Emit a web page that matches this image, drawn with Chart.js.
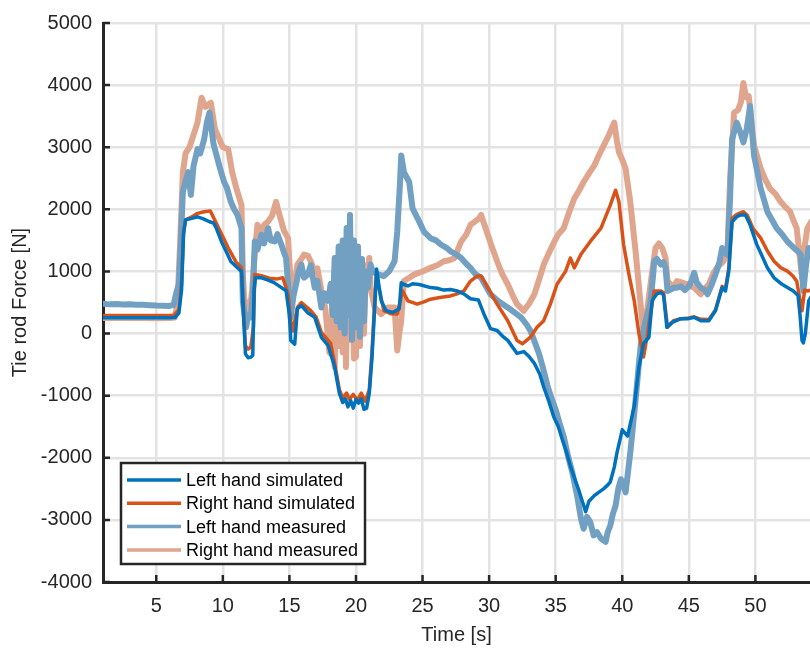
<!DOCTYPE html>
<html>
<head>
<meta charset="utf-8">
<script src="https://cdn.jsdelivr.net/npm/chart.js@4.4.1/dist/chart.umd.min.js"></script>
<style>
  html, body { margin: 0; padding: 0; background: #fff; }
  #wrap { width: 810px; height: 653px; }
</style>
</head>
<body>
<div id="wrap"><canvas id="lineChart" width="810" height="653"></canvas></div>
<script>
// tick labels
var xTicks = [5, 10, 15, 20, 25, 30, 35, 40, 45, 50];
var yTicks = [-4000, -3000, -2000, -1000, 0, 1000, 2000, 3000, 4000, 5000];

// Left hand simulated
var lhSimTime = [1.0, 2, 3, 4, 5, 6, 6.4, 6.7, 6.9, 7.05, 7.2, 7.6, 8.1, 8.5, 9.0, 9.3, 9.5, 9.9, 10.3, 10.6, 11.0, 11.4, 11.55, 11.7, 11.9, 12.1, 12.25, 12.35, 12.45, 12.85, 13.4, 13.85, 14.4, 14.75, 15.0, 15.1, 15.4, 15.6, 15.9, 16.4, 16.9, 17.4, 17.9, 18.4, 18.75, 19.0, 19.2, 19.4, 19.6, 19.8, 20.0, 20.2, 20.4, 20.6, 20.8, 21.0, 21.2, 21.4, 21.55, 21.7, 21.9, 22.25, 22.75, 23.25, 23.4, 23.6, 23.9, 24.25, 24.75, 25.6, 26.1, 26.6, 27.1, 27.6, 28.1, 28.6, 29.2, 29.6, 30.1, 30.6, 31.0, 31.4, 32.1, 32.6, 33.0, 33.4, 33.8, 34.1, 34.5, 34.85, 35.2, 35.5, 35.8, 36.1, 36.4, 36.7, 37.0, 37.25, 37.5, 37.9, 38.2, 38.6, 38.9, 39.1, 39.4, 39.6, 40.0, 40.4, 40.9, 41.25, 41.6, 42.0, 42.25, 42.6, 42.9, 43.1, 43.35, 43.75, 44.4, 44.9, 45.4, 45.9, 46.5, 47.0, 47.5, 47.75, 48.0, 48.25, 48.6, 48.9, 49.25, 49.6, 50.1, 50.5, 50.9, 51.4, 52.0, 52.5, 52.85, 53.2, 53.35, 53.5, 53.6, 53.75, 54.0, 54.2];
var lhSim = [255, 255, 255, 255, 255, 255, 258, 330, 700, 1600, 1830, 1850, 1880, 1850, 1800, 1780, 1700, 1480, 1300, 1160, 1080, 1000, 300, -330, -390, -380, -350, 700, 900, 900, 860, 820, 740, 690, 300, -110, -170, 400, 450, 330, 260, -60, -190, -540, -960, -1110, -1050, -1180, -1080, -1200, -1060, -1120, -1050, -1220, -1200, -960, -400, 400, 1040, 800, 530, 370, 340, 400, 818, 790, 766, 800, 790, 740, 730, 700, 710, 686, 640, 560, 540, 320, 80, 50, -40, -110, -320, -290, -370, -480, -650, -860, -1100, -1340, -1500, -1710, -1900, -2130, -2320, -2500, -2700, -2870, -2700, -2610, -2560, -2500, -2440, -2390, -2150, -1920, -1550, -1650, -1170, -540, -160, -60, 530, 640, 660, 620, 100, 180, 240, 237, 260, 207, 207, 367, 738, 686, 1005, 1800, 1880, 1910, 1910, 1750, 1436, 1250, 1058, 898, 793, 730, 686, 611, 300, -112, -150, 0, 527, 600];

// Right hand simulated
var rhSimTime = [1.0, 6.3, 6.7, 6.9, 7.05, 7.2, 7.6, 8.1, 8.6, 9.05, 9.3, 9.5, 10.0, 10.4, 11.0, 11.4, 11.55, 11.7, 11.9, 12.1, 12.3, 12.4, 12.9, 13.5, 14.1, 14.5, 14.9, 15.1, 15.25, 15.6, 15.9, 16.6, 17.0, 17.4, 18.1, 18.4, 18.75, 19.0, 19.3, 19.5, 19.8, 20.1, 20.4, 20.7, 21.0, 21.2, 21.4, 21.55, 21.7, 22.1, 22.6, 23.1, 23.5, 23.9, 24.6, 25.1, 25.6, 26.3, 27.1, 27.6, 28.1, 28.6, 29.1, 29.4, 29.9, 30.6, 31.4, 32.1, 32.5, 33.1, 33.6, 34.1, 34.6, 35.1, 35.75, 36.1, 36.4, 36.9, 37.6, 38.4, 39.1, 39.5, 39.75, 40.1, 40.5, 40.9, 41.25, 41.6, 41.9, 42.1, 42.4, 42.9, 43.1, 43.4, 43.85, 44.4, 45.0, 45.4, 45.9, 46.5, 47.0, 47.5, 47.75, 48.0, 48.25, 48.6, 49.1, 49.4, 49.8, 50.4, 50.9, 51.4, 51.9, 52.4, 52.8, 53.1, 53.3, 53.5, 53.7, 53.9, 54.2];
var rhSim = [290, 295, 380, 800, 1650, 1830, 1870, 1935, 1960, 1975, 1870, 1780, 1560, 1380, 1150, 1060, 400, -200, -250, -220, 100, 950, 930, 890, 880, 900, 640, 200, 40, 420, 500, 370, 270, 20, -160, -480, -900, -1040, -960, -1060, -980, -1070, -960, -1090, -900, -300, 500, 980, 760, 367, 320, 314, 686, 527, 474, 510, 553, 580, 606, 640, 686, 845, 925, 925, 738, 474, 207, -112, -165, -58, 101, 207, 474, 793, 1005, 1217, 1058, 1276, 1483, 1696, 2069, 2308, 2121, 1430, 952, 527, 0, -378, 0, 300, 686, 686, 659, 101, 207, 240, 250, 270, 230, 225, 380, 760, 720, 1050, 1850, 1920, 1962, 1900, 1700, 1536, 1330, 1164, 1060, 1005, 930, 845, 600, 367, 700, 686, 700];

// Left hand measured
var lhMeasTime = [1.0, 1.5, 2, 2.5, 3, 3.5, 4, 4.5, 5, 5.5, 6.0, 6.3, 6.5, 6.7, 6.85, 7.0, 7.2, 7.4, 7.6, 7.8, 8.1, 8.3, 8.6, 8.8, 9.0, 9.15, 9.3, 9.6, 9.8, 10.1, 10.3, 10.6, 10.85, 11.1, 11.4, 11.5, 11.75, 11.9, 12.1, 12.25, 12.4, 12.6, 12.9, 13.1, 13.4, 13.6, 13.9, 14.1, 14.4, 14.6, 14.75, 14.9, 15.1, 15.3, 15.5, 15.7, 15.9, 16.1, 16.4, 16.6, 16.9, 17.1, 17.4, 17.6, 17.9, 18.1, 18.25, 18.4, 18.55, 18.7, 18.85, 19.0, 19.15, 19.3, 19.45, 19.55, 19.7, 19.85, 20.0, 20.15, 20.3, 20.45, 20.6, 20.75, 20.9, 21.1, 21.25, 21.6, 22.1, 22.5, 22.9, 23.1, 23.3, 23.4, 23.6, 24.0, 24.25, 24.75, 25.1, 25.6, 26.0, 26.4, 26.8, 27.1, 27.5, 27.9, 28.3, 28.6, 29.0, 29.4, 30.1, 30.7, 31.4, 31.9, 32.4, 32.8, 33.1, 33.45, 33.75, 34.1, 34.4, 34.7, 35.0, 35.3, 35.6, 35.9, 36.25, 36.6, 36.9, 37.1, 37.35, 37.6, 37.85, 38.1, 38.4, 38.75, 38.9, 39.1, 39.3, 39.5, 39.7, 39.9, 40.25, 40.6, 40.8, 41.0, 41.2, 41.4, 41.75, 42.1, 42.3, 42.4, 42.6, 42.9, 43.1, 43.25, 43.4, 43.9, 44.1, 44.4, 44.7, 45.0, 45.2, 45.4, 45.6, 45.9, 46.2, 46.4, 46.7, 47.0, 47.3, 47.5, 47.7, 47.9, 48.1, 48.25, 48.6, 48.85, 49.1, 49.35, 49.6, 49.75, 49.9, 50.1, 50.4, 50.65, 50.9, 51.2, 51.6, 52.0, 52.4, 52.9, 53.2, 53.4, 53.6, 53.8, 54.0, 54.2];
var lhMeas = [480, 470, 475, 468, 470, 465, 462, 455, 450, 448, 445, 460, 650, 800, 1500, 2280, 2450, 2600, 2233, 2700, 2970, 2900, 3130, 3400, 3557, 3300, 3050, 2812, 2650, 2440, 2350, 2121, 2000, 1910, 1696, 527, 101, 300, 260, 600, 1483, 1350, 1590, 1450, 1696, 1500, 1483, 1600, 1430, 1300, 1217, 800, 260, 600, 793, 1000, 1111, 900, 952, 1100, 738, 850, 420, 650, 527, 800, 300, 1217, 200, 1400, 100, 1500, 0, 1700, 300, 1910, -100, 1500, 100, 1400, -50, 1200, 200, 1000, 738, 1111, 1000, 957, 925, 1005, 1164, 1643, 2400, 2866, 2600, 2440, 2015, 1802, 1643, 1536, 1500, 1430, 1380, 1324, 1280, 1217, 1120, 1058, 950, 900, 633, 520, 420, 340, 260, 150, 48, -150, -324, -600, -856, -1050, -1228, -1450, -1654, -1950, -2238, -2600, -2983, -3143, -2950, -3036, -3250, -3196, -3300, -3355, -3200, -3090, -2900, -2770, -2500, -2345, -2557, -1920, -1500, -1069, -600, -165, 207, 474, 900, 1164, 1200, 1111, 1150, 1058, 686, 738, 738, 760, 700, 760, 850, 978, 820, 738, 700, 633, 780, 952, 1150, 1377, 1300, 1270, 2200, 3130, 3397, 3250, 3078, 3300, 3663, 3250, 2866, 2650, 2333, 2150, 1962, 1850, 1696, 1600, 1483, 1377, 1320, 1271, 686, 1100, 1377, 1350];

// Right hand measured
var rhMeasTime = [1.0, 2, 3, 4, 5, 6, 6.4, 6.6, 6.8, 7.0, 7.2, 7.5, 7.8, 8.1, 8.4, 8.7, 9.1, 9.4, 9.7, 10.0, 10.4, 10.7, 11.0, 11.4, 11.5, 11.6, 11.8, 12.0, 12.2, 12.4, 12.6, 12.9, 13.1, 13.4, 13.7, 14.0, 14.2, 14.4, 14.6, 14.9, 15.1, 15.25, 15.6, 15.9, 16.1, 16.4, 16.6, 16.9, 17.1, 17.4, 17.7, 18.0, 18.1, 18.25, 18.4, 18.55, 18.7, 18.85, 19.0, 19.15, 19.25, 19.4, 19.55, 19.7, 19.85, 20.0, 20.15, 20.3, 20.45, 20.6, 20.75, 20.9, 21.0, 21.1, 21.4, 21.9, 22.4, 22.9, 23.1, 23.25, 23.4, 23.6, 24.0, 24.4, 25.0, 25.6, 26.1, 26.6, 27.0, 27.4, 27.9, 28.3, 28.6, 29.25, 29.4, 29.9, 30.2, 30.6, 31.0, 31.4, 31.8, 32.1, 32.6, 33.0, 33.4, 33.8, 34.1, 34.5, 34.9, 35.2, 35.6, 36.0, 36.4, 36.75, 37.1, 37.5, 37.9, 38.2, 38.6, 39.0, 39.4, 39.6, 39.75, 40.0, 40.25, 40.6, 41.0, 41.4, 41.6, 41.9, 42.25, 42.5, 42.75, 43.0, 43.25, 43.4, 43.85, 44.1, 44.5, 44.9, 45.4, 45.9, 46.2, 46.5, 46.8, 47.1, 47.6, 47.9, 48.1, 48.4, 48.7, 48.9, 49.1, 49.3, 49.5, 49.7, 49.9, 50.4, 50.7, 51.1, 51.5, 51.9, 52.2, 52.6, 52.9, 53.1, 53.3, 53.5, 53.7, 53.9, 54.2];
var rhMeas = [250, 255, 250, 252, 248, 250, 260, 500, 1500, 2600, 2900, 3000, 3200, 3400, 3796, 3650, 3716, 3300, 3150, 3000, 2970, 2600, 2350, 2069, 1000, 579, 400, 319, 700, 1300, 1750, 1650, 1750, 1802, 1900, 2121, 1950, 1802, 1650, 1536, 800, 579, 1111, 1200, 1271, 1250, 1164, 1000, 1050, 700, 400, -300, -324, 500, -537, 900, -200, 1200, -300, 1000, -537, 1300, -100, 1200, -400, -378, 900, -200, 1100, 0, 1100, 800, 1217, 738, 420, 314, 420, 420, -271, 0, 207, 845, 900, 952, 1000, 1058, 1100, 1164, 1180, 1217, 1483, 1600, 1750, 1855, 1910, 1590, 1400, 1164, 950, 793, 600, 474, 367, 480, 633, 900, 1111, 1300, 1483, 1600, 1696, 1950, 2174, 2300, 2440, 2580, 2707, 2850, 3026, 3200, 3397, 3100, 2919, 2800, 2653, 2121, 1324, 420, 0, 420, 1005, 1377, 1450, 1377, 1217, 845, 738, 845, 820, 793, 738, 633, 720, 793, 950, 1058, 1164, 1300, 2500, 3557, 3600, 3716, 4035, 3800, 3823, 3400, 3026, 2653, 2500, 2333, 2250, 2121, 2050, 1962, 1800, 1696, 1300, 898, 1400, 1696, 1802];

var textColor = '#262626';
var fontFamily = '"Liberation Sans", Arial, sans-serif';

function toPoints(t, v) {
  var pts = [];
  for (var i = 0; i < t.length; i++) {
    pts.push({x: t[i], y: v[i]});
  }
  return pts;
}

// MATLAB style inward ticks
var innerTicks = {
  id: 'innerTicks',
  afterDatasetsDraw: function(chart) {
    var ctx = chart.ctx;
    var a = chart.chartArea;
    var xs = chart.scales.x, ys = chart.scales.y;
    ctx.save();
    ctx.strokeStyle = textColor;
    ctx.lineWidth = 2.5;
    ctx.beginPath();
    xTicks.forEach(function(t) {
      var px = xs.getPixelForValue(t);
      ctx.moveTo(px, a.bottom);
      ctx.lineTo(px, a.bottom - 7);
    });
    yTicks.forEach(function(t) {
      var py = ys.getPixelForValue(t);
      ctx.moveTo(a.left, py);
      ctx.lineTo(a.left + 7, py);
    });
    ctx.stroke();
    ctx.restore();
  }
};

// legend box inside the axes
var boxLegend = {
  id: 'boxLegend',
  afterDraw: function(chart) {
    var ctx = chart.ctx;
    var a = chart.chartArea;
    var x0 = a.left + 18, y0 = a.bottom - 119, w = 244, h = 101;
    ctx.save();
    ctx.fillStyle = '#fff';
    ctx.fillRect(x0, y0, w, h);
    ctx.strokeStyle = textColor;
    ctx.lineWidth = 2.5;
    ctx.strokeRect(x0, y0, w, h);
    ctx.font = '18px ' + fontFamily;
    ctx.textBaseline = 'middle';
    ctx.fillStyle = '#000';
    chart.data.datasets.forEach(function(ds, i) {
      var y = y0 + 17 + i * 23.3;
      ctx.strokeStyle = ds.borderColor;
      ctx.lineWidth = 3.5;
      ctx.beginPath();
      ctx.moveTo(x0 + 6, y);
      ctx.lineTo(x0 + 60, y);
      ctx.stroke();
      ctx.fillText(ds.label, x0 + 65, y + 1);
    });
    ctx.restore();
  }
};

function lineChart() {
  var ctx = document.getElementById('lineChart').getContext('2d');
  myChart = new Chart(ctx, {
    type: 'line',
    data: {
      datasets: [{
        label: 'Left hand simulated',
        data: toPoints(lhSimTime, lhSim),
        borderColor: '#0072BD',
        borderWidth: 3.5,
        order: 0
      }, {
        label: 'Right hand simulated',
        data: toPoints(rhSimTime, rhSim),
        borderColor: '#D95319',
        borderWidth: 3.5,
        order: 1
      }, {
        label: 'Left hand measured',
        data: toPoints(lhMeasTime, lhMeas),
        borderColor: '#72A0C3',
        borderWidth: 6,
        order: 2
      }, {
        label: 'Right hand measured',
        data: toPoints(rhMeasTime, rhMeas),
        borderColor: '#DFA58D',
        borderWidth: 6,
        order: 3
      }]
    },
    options: {
      responsive: false,
      animation: false,
      layout: { padding: { top: 18, right: 0, left: 0, bottom: 0 } },
      elements: {
        point: { radius: 0 },
        line: { tension: 0, fill: false, borderJoinStyle: 'round', borderCapStyle: 'round' }
      },
      plugins: {
        legend: { display: false },
        tooltip: { enabled: false }
      },
      scales: {
        x: {
          type: 'linear',
          min: 1,
          max: 54.1,
          afterBuildTicks: function(s) { s.ticks = xTicks.map(function(v) { return {value: v}; }); },
          afterFit: function(s) { s.height = 71; },
          grid: { color: '#E3E3E3', lineWidth: 2.5, drawTicks: false },
          border: { display: true, color: textColor, width: 3 },
          ticks: { color: textColor, padding: 12, maxRotation: 0, font: { family: fontFamily, size: 20 },
                   callback: function(v) { return String(v); } },
          title: { display: true, text: 'Time [s]', color: textColor, padding: { top: 0, bottom: 6 }, font: { family: fontFamily, size: 20 } }
        },
        y: {
          min: -4000,
          max: 5000,
          afterBuildTicks: function(s) { s.ticks = yTicks.map(function(v) { return {value: v}; }); },
          afterFit: function(s) { s.width = 103; },
          grid: { color: '#E3E3E3', lineWidth: 2.5, drawTicks: false },
          border: { display: true, color: textColor, width: 3 },
          ticks: { color: textColor, padding: 11, font: { family: fontFamily, size: 20 },
                   callback: function(v) { return String(v); } },
          title: { display: true, text: 'Tie rod Force [N]', color: textColor, padding: { top: 8, bottom: 0 }, font: { family: fontFamily, size: 20 } }
        }
      }
    },
    plugins: [innerTicks, boxLegend]
  });
}

var myChart = null;
lineChart();
</script>
</body>
</html>
